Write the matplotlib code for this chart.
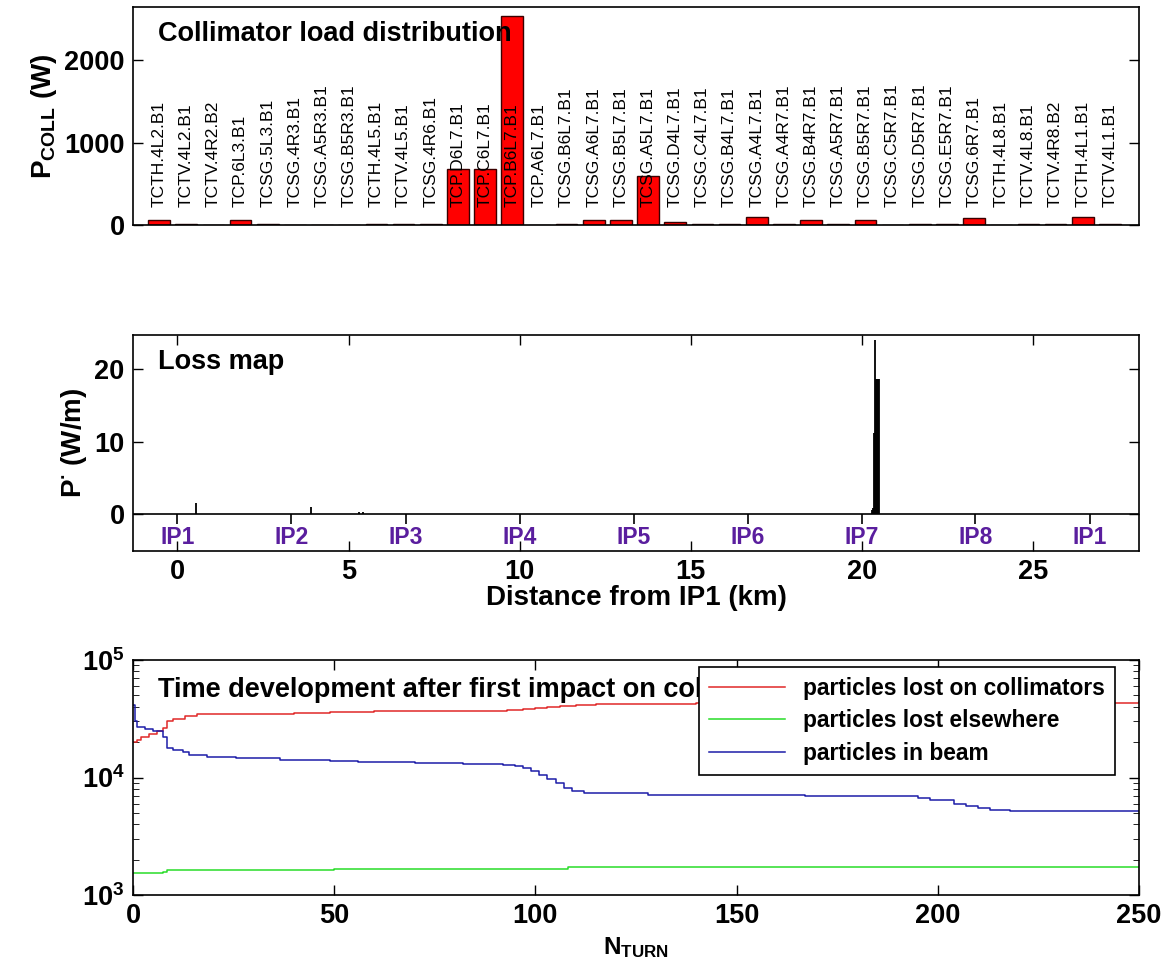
import numpy as np
import matplotlib
matplotlib.use("Agg")
import matplotlib.pyplot as plt

plt.rcParams['font.family'] = ['Liberation Sans', 'DejaVu Sans']
plt.rcParams['mathtext.fontset'] = 'custom'
plt.rcParams['mathtext.rm'] = 'Liberation Sans:bold'
plt.rcParams['mathtext.it'] = 'Liberation Sans:bold'
plt.rcParams['mathtext.bf'] = 'Liberation Sans:bold'

# collimator load distribution
collimators = ['TCTH.4L2.B1', 'TCTV.4L2.B1', 'TCTV.4R2.B2', 'TCP.6L3.B1', 'TCSG.5L3.B1',
               'TCSG.4R3.B1', 'TCSG.A5R3.B1', 'TCSG.B5R3.B1', 'TCTH.4L5.B1', 'TCTV.4L5.B1',
               'TCSG.4R6.B1', 'TCP.D6L7.B1', 'TCP.C6L7.B1', 'TCP.B6L7.B1', 'TCP.A6L7.B1',
               'TCSG.B6L7.B1', 'TCSG.A6L7.B1', 'TCSG.B5L7.B1', 'TCSG.A5L7.B1', 'TCSG.D4L7.B1',
               'TCSG.C4L7.B1', 'TCSG.B4L7.B1', 'TCSG.A4L7.B1', 'TCSG.A4R7.B1', 'TCSG.B4R7.B1',
               'TCSG.A5R7.B1', 'TCSG.B5R7.B1', 'TCSG.C5R7.B1', 'TCSG.D5R7.B1', 'TCSG.E5R7.B1',
               'TCSG.6R7.B1', 'TCTH.4L8.B1', 'TCTV.4L8.B1', 'TCTV.4R8.B2', 'TCTH.4L1.B1',
               'TCTV.4L1.B1']
p_coll = [60, 15, 0, 60, 15, 0, 0, 0, 12, 12,
          12, 680, 680, 2540, 0, 12, 60, 60, 600, 35,
          12, 12, 100, 12, 60, 12, 60, 0, 12, 12,
          80, 0, 12, 12, 100, 12]

# loss map
loss_pos = [0.53, 3.90, 5.30, 5.42, 20.29, 20.32, 20.35, 20.38, 20.41, 20.44, 20.47, 20.50]
loss_val = [1.5, 1.0, 0.3, 0.3, 0.6, 0.8, 11.2, 24.0, 18.6, 18.6, 18.6, 18.6]
ip_pos = [0.0, 3.332, 6.664, 9.997, 13.329, 16.661, 19.994, 23.315, 26.659]
ip_names = ['IP1', 'IP2', 'IP3', 'IP4', 'IP5', 'IP6', 'IP7', 'IP8', 'IP1']

# time development
turns_red = [0, 1, 2, 4, 6, 7.5, 8.5, 10, 13, 16, 25, 40, 49, 60, 93, 97, 100, 103, 106, 110, 115, 140, 250]
n_coll = [2.0e4, 2.1e4, 2.2e4, 2.35e4, 2.5e4, 2.62e4, 3.0e4, 3.15e4, 3.35e4, 3.45e4, 3.5e4, 3.57e4,
          3.63e4, 3.68e4, 3.75e4, 3.84e4, 3.92e4, 4.0e4, 4.08e4, 4.15e4, 4.25e4, 4.3e4, 4.37e4]
turns_green = [0, 7.5, 8.5, 50, 105, 108, 250]
n_else = [1.55e3, 1.58e3, 1.63e3, 1.66e3, 1.68e3, 1.73e3, 1.73e3]
turns_blue = [0, 0.5, 1, 3, 5, 7.5, 8.5, 10, 12.5, 14, 18.5, 25.5, 36.5, 49, 56, 70, 82, 92, 95, 97,
              99, 101, 103, 105, 107, 109, 112, 128, 167, 195, 198, 204, 207, 210, 213, 218, 250]
n_beam = [4.1e4, 3.0e4, 2.7e4, 2.6e4, 2.5e4, 2.2e4, 1.77e4, 1.7e4, 1.66e4, 1.55e4, 1.5e4, 1.46e4,
          1.42e4, 1.39e4, 1.36e4, 1.34e4, 1.31e4, 1.29e4, 1.26e4, 1.2e4, 1.13e4, 1.05e4, 9.7e3,
          8.9e3, 8.2e3, 7.7e3, 7.4e3, 7.1e3, 6.9e3, 6.7e3, 6.4e3, 6.0e3, 5.7e3, 5.5e3, 5.3e3,
          5.15e3, 5.15e3]

W, H = 1164, 967
fig = plt.figure(figsize=(W / 100, H / 100), dpi=100)


def box(l, t, r, b):
    return [l / W, 1 - b / H, (r - l) / W, (b - t) / H]


tick_kw = dict(direction='in', length=7, width=1, labelsize=19.5, pad=6)

# ---- top panel
ax1 = fig.add_axes(box(133, 7, 1139, 225))
x = np.arange(1, len(collimators) + 1)
ax1.bar(x, p_coll, width=0.8, color='#ff0000', edgecolor='#3a0000', linewidth=1)
for xi, name in zip(x, collimators):
    ax1.text(xi, 220, name, rotation=90, ha='center', va='bottom', fontsize=12.5)
ax1.set_xlim(0.04, 37.07)
ax1.set_ylim(0, 2650)
ax1.set_xticks([])
ax1.set_yticks([0, 1000, 2000])
ax1.tick_params(axis='y', right=True, **tick_kw)
for lab in ax1.get_yticklabels():
    lab.set_fontweight('bold')
ax1.set_ylabel(r'P$_{\mathrm{COLL}}$ (W)', fontsize=20, fontweight='bold')
ax1.text(0.025, 0.876, 'Collimator load distribution', transform=ax1.transAxes,
         fontsize=19.5, fontweight='bold', va='center')

# ---- middle panel
ax2 = fig.add_axes(box(133, 335, 1139, 551))
ax2.vlines(loss_pos, 0, loss_val, color='black', linewidth=1.3)
ax2.axhline(0, color='black', linewidth=1.2)
ax2.vlines(ip_pos, -1.4, 0, color='black', linewidth=1.2)
for xp, name in zip(ip_pos, ip_names):
    ax2.text(xp, -3.3, name, ha='center', va='center', fontsize=16.5, fontweight='bold',
             color='#5a1e9e', zorder=2)
ax2.set_xlim(-1.3, 28.1)
ax2.set_ylim(-5.1, 24.7)
ax2.set_xticks([0, 5, 10, 15, 20, 25])
ax2.set_yticks([0, 10, 20])
ax2.tick_params(axis='both', top=True, right=True, **tick_kw)
for lab in ax2.get_xticklabels() + ax2.get_yticklabels():
    lab.set_fontweight('bold')
ax2.set_xlabel('Distance from IP1 (km)', fontsize=20, fontweight='bold', labelpad=0)
ax2.set_ylabel(r'P$^{\bullet}$ (W/m)', fontsize=20, fontweight='bold')
ax2.text(0.025, 0.875, 'Loss map', transform=ax2.transAxes,
         fontsize=19.5, fontweight='bold', va='center')

# ---- bottom panel
ax3 = fig.add_axes(box(133, 660, 1139, 895))
ax3.plot(turns_red, n_coll, drawstyle='steps-post', color='#e02828', linewidth=1.1,
         label='particles lost on collimators')
ax3.plot(turns_green, n_else, drawstyle='steps-post', color='#28dc28', linewidth=1.1,
         label='particles lost elsewhere')
ax3.plot(turns_blue, n_beam, drawstyle='steps-post', color='#1c1ca8', linewidth=1.1,
         label='particles in beam')
ax3.set_yscale('log')
ax3.set_xlim(0, 250)
ax3.set_ylim(1e3, 1e5)
ax3.set_xticks([0, 50, 100, 150, 200, 250])
ax3.set_yticks([1e3, 1e4, 1e5])
ax3.set_yticklabels([r'$\mathbf{10^3}$', r'$\mathbf{10^4}$', r'$\mathbf{10^5}$'])
ax3.tick_params(axis='both', which='major', top=True, right=True, **tick_kw)
ax3.tick_params(axis='y', which='minor', direction='in', length=4, right=True)
for lab in ax3.get_xticklabels():
    lab.set_fontweight('bold')
ax3.set_xlabel(r'N$_{\mathrm{TURN}}$', fontsize=17.5, fontweight='bold', labelpad=4)
ax3.text(0.025, 0.872, 'Time development after first impact on collimators',
         transform=ax3.transAxes, fontsize=19.5, fontweight='bold', va='center')
leg = ax3.legend(loc='upper right', bbox_to_anchor=(0.976, 0.97), fontsize=16.4,
                 handlelength=3.3, fancybox=False, framealpha=1, edgecolor='black',
                 borderaxespad=0, labelspacing=0.4, borderpad=0.45)
leg.get_frame().set_linewidth(1.2)
for t in leg.get_texts():
    t.set_fontweight('bold')
leg.set_zorder(5)

for ax in (ax1, ax2, ax3):
    for s in ax.spines.values():
        s.set_linewidth(1.2)

fig.savefig('out.png', dpi=100)
